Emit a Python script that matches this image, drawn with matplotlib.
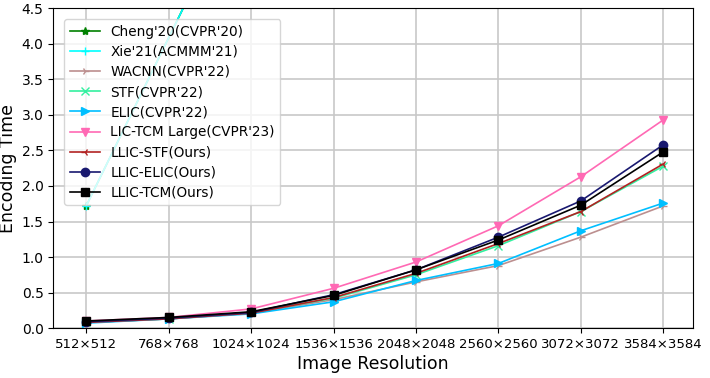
import numpy as np
import matplotlib
matplotlib.use('Agg')
import matplotlib.pyplot as plt

RESOLUTIONS = ['512×512', '768×768', '1024×1024', '1536×1536',
               '2048×2048', '2560×2560', '3072×3072', '3584×3584']

# encoding time per method (None = not measured)
cheng = [1.72, None, 6.45, None, None, None, None, None]
xie = [1.72, None, 6.45, None, None, None, None, None]
wacnn = [0.08, 0.13, 0.21, 0.40, 0.65, 0.88, 1.28, 1.72]
stf = [0.08, 0.13, 0.22, 0.42, 0.75, 1.16, 1.64, 2.28]
elic = [0.07, 0.13, 0.20, 0.37, 0.67, 0.91, 1.37, 1.76]
tcm_large = [0.10, 0.15, 0.27, 0.56, 0.93, 1.44, 2.13, 2.93]
llic_stf = [0.08, 0.13, 0.21, 0.43, 0.77, 1.19, 1.64, 2.31]
llic_elic = [0.09, 0.14, 0.22, 0.47, 0.82, 1.28, 1.79, 2.58]
llic_tcm = [0.10, 0.15, 0.23, 0.46, 0.82, 1.24, 1.73, 2.48]

SERIES = [
    ("Cheng'20(CVPR'20)", cheng, 'green', '*'),
    ("Xie'21(ACMMM'21)", xie, 'cyan', '+'),
    ("WACNN(CVPR'22)", wacnn, 'rosybrown', '4'),
    ("STF(CVPR'22)", stf, '#33f0a0', 'x'),
    ("ELIC(CVPR'22)", elic, 'deepskyblue', '>'),
    ("LIC-TCM Large(CVPR'23)", tcm_large, 'hotpink', 'v'),
    ("LLIC-STF(Ours)", llic_stf, 'firebrick', '3'),
    ("LLIC-ELIC(Ours)", llic_elic, 'midnightblue', 'o'),
    ("LLIC-TCM(Ours)", llic_tcm, 'black', 's'),
]

fig, ax = plt.subplots(figsize=(7.1, 3.78), dpi=100)

idx = np.arange(len(RESOLUTIONS))
for label, vals, color, marker in SERIES:
    xs = [i for i, v in zip(idx, vals) if v is not None]
    ys = [v for v in vals if v is not None]
    ax.plot(xs, ys, marker=marker, color=color, label=label,
            linewidth=1.2, markersize=6)

ax.set_xticks(idx)
ax.set_xticklabels(RESOLUTIONS, fontsize=9.5)
ax.tick_params(axis='y', labelsize=10)
ax.set_xlim(-0.4, 7.36)
ax.set_ylim(0, 4.5)
ax.set_xlabel('Image Resolution', fontsize=12.5, labelpad=3)
ax.set_ylabel('Encoding Time', fontsize=12.5, labelpad=3)
ax.grid(True, color='#c8c8c8', linewidth=1.2)
ax.set_axisbelow(True)
ax.legend(loc='upper left', fontsize=9.8, handlelength=2.2,
          borderaxespad=0.8, labelspacing=0.45)

plt.subplots_adjust(left=0.075, right=0.976, top=0.978, bottom=0.132)
plt.savefig('out.png', dpi=100)
plt.close()
